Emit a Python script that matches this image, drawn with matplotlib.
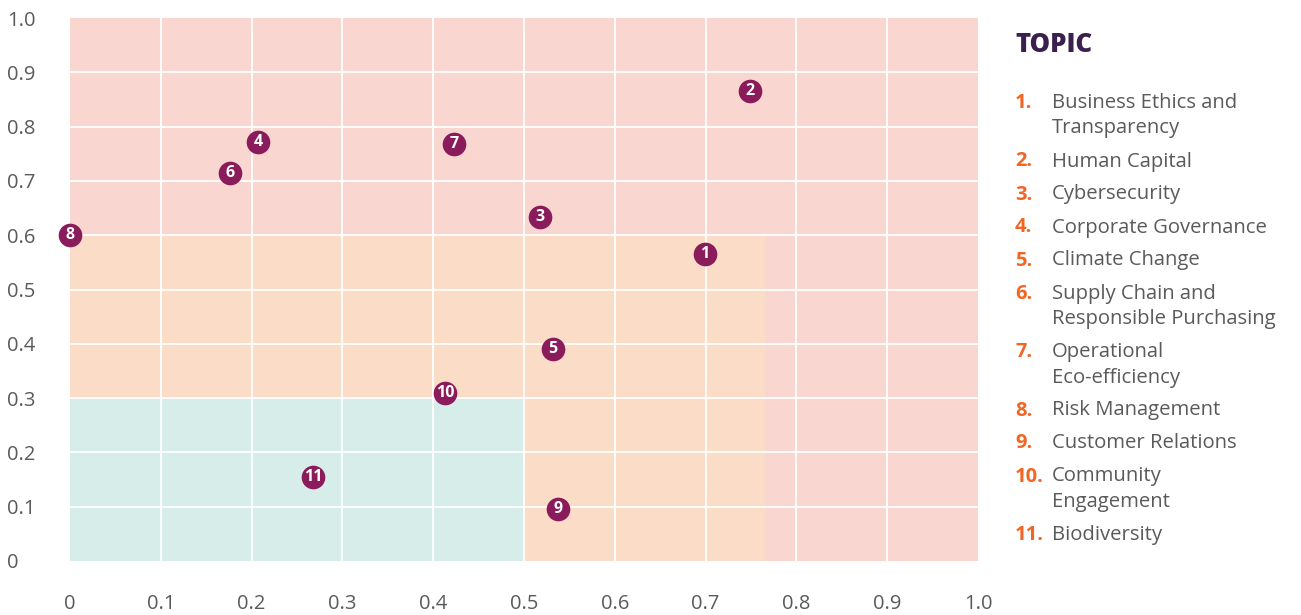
""" Materiality matrix: topics scored on two axes with shaded priority zones. """

import matplotlib
matplotlib.use('Agg')
import matplotlib.pyplot as plt
from matplotlib.patches import Rectangle

# Topic positions
topic_ids = [1, 2, 3, 4, 5, 6, 7, 8, 9, 10, 11]
x_vals = [0.699, 0.749, 0.518, 0.207, 0.532, 0.176, 0.423, 0.0, 0.537, 0.413, 0.268]
y_vals = [0.565, 0.866, 0.633, 0.772, 0.390, 0.714, 0.768, 0.600, 0.096, 0.309, 0.155]

topic_names = [
    "Business Ethics and\nTransparency",
    "Human Capital",
    "Cybersecurity",
    "Corporate Governance",
    "Climate Change",
    "Supply Chain and\nResponsible Purchasing",
    "Operational\nEco-efficiency",
    "Risk Management",
    "Customer Relations",
    "Community\nEngagement",
    "Biodiversity",
]

# Zone extents (x_max, y_max), all start at the origin
zone_high = (1.0, 1.0)
zone_mid = (0.765, 0.6)
zone_low = (0.5, 0.3)

ticks = [0, 0.1, 0.2, 0.3, 0.4, 0.5, 0.6, 0.7, 0.8, 0.9, 1.0]
tick_labels = ["0", "0.1", "0.2", "0.3", "0.4", "0.5", "0.6", "0.7", "0.8", "0.9", "1.0"]

# Colours
RED_ZONE = '#fad6d1'
ORANGE_ZONE = '#fbdcc6'
TEAL_ZONE = '#d7ede9'
MARKER = '#8a1c5c'
ORANGE = '#f26522'
PURPLE = '#3a1f4f'
GREY = '#5a5a5a'

plt.rcParams['font.family'] = ['Open Sans', 'DejaVu Sans']

fig = plt.figure(figsize=(13.01, 6.15), dpi=100)
W, H = 1301, 615
ax = fig.add_axes([70 / W, 54 / H, 908 / W, 543 / H])

# Shaded zones
for (xm, ym), col in [(zone_high, RED_ZONE), (zone_mid, ORANGE_ZONE), (zone_low, TEAL_ZONE)]:
    ax.add_patch(Rectangle((0, 0), xm, ym, facecolor=col, edgecolor='none', zorder=0))

# White grid
for t in ticks[1:-1]:
    ax.axvline(t, color='white', lw=1.3, zorder=1)
    ax.axhline(t, color='white', lw=1.3, zorder=1)

# Markers with numbers
ax.scatter(x_vals, y_vals, s=290, color=MARKER, zorder=3, clip_on=False, linewidths=0)
for i, x, y in zip(topic_ids, x_vals, y_vals):
    ax.text(x, y, str(i), color='white', fontsize=11.5, fontweight='bold',
            ha='center', va='center', zorder=4)

ax.set_xlim(0, 1)
ax.set_ylim(0, 1)
for s in ax.spines.values():
    s.set_visible(False)
ax.set_xticks(ticks)
ax.set_xticklabels(tick_labels)
ax.set_yticks(ticks)
ax.set_yticklabels(tick_labels)
ax.tick_params(length=0, labelsize=14.5, labelcolor=GREY)
ax.tick_params(axis='x', pad=24)
ax.tick_params(axis='y', pad=45)
for lab in ax.get_yticklabels():
    lab.set_horizontalalignment('left')

# Legend panel
fig.text(1015 / W, 1 - 45 / H, "TOPIC", color=PURPLE, fontsize=18.5,
         fontweight='heavy', va='center', ha='left')
y = 103
for i, name in zip(topic_ids, topic_names):
    fig.text(1015 / W, 1 - y / H, f"{i}.", color=ORANGE, fontsize=14.5,
             fontweight='bold', va='center', ha='left')
    lines = name.split("\n")
    for k, ln in enumerate(lines):
        fig.text(1052 / W, 1 - (y + 25.5 * k) / H, ln, color=GREY, fontsize=14.6,
                 va='center', ha='left')
    y += 33 + 25.5 * (len(lines) - 1)

fig.savefig("out.png", dpi=100)
